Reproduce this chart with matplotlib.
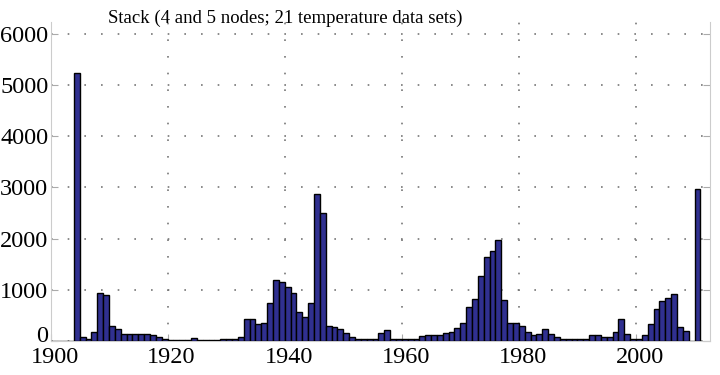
import numpy as np
import matplotlib
matplotlib.use("Agg")
import matplotlib.pyplot as plt
import matplotlib.transforms as mtransforms

# one bar per year, left edge at the year
years = np.arange(1900, 2011)
counts = [
    0, 0, 0, 0, 5230, 85, 45, 180, 940, 900,            # 1900s
    290, 235, 140, 140, 140, 140, 140, 110, 75, 45,     # 1910s
    25, 25, 25, 25, 50, 25, 25, 25, 25, 40,             # 1920s
    40, 40, 85, 430, 425, 330, 355, 750, 1190, 1150,    # 1930s
    1060, 935, 575, 475, 750, 2865, 2510, 295, 270, 235,  # 1940s
    150, 80, 40, 35, 35, 35, 150, 215, 35, 35,          # 1950s
    35, 35, 35, 97, 117, 117, 117, 150, 182, 247,       # 1960s
    357, 669, 818, 1266, 1643, 1760, 1981, 800, 344, 357,  # 1970s
    292, 169, 117, 136, 234, 136, 72, 33, 33, 33,       # 1980s
    33, 33, 117, 117, 72, 72, 182, 425, 145, 40,        # 1990s
    40, 125, 340, 623, 786, 835, 912, 280, 205, 0,      # 2000s
    2975,                                               # 2010
]
x_ticks = [1900, 1920, 1940, 1960, 1980, 2000]
y_ticks = [0, 1000, 2000, 3000, 4000, 5000, 6000]
title = "Stack (4 and 5 nodes; 21 temperature data sets)"

plt.rcParams["font.family"] = ["Liberation Serif", "DejaVu Serif"]

fig = plt.figure(figsize=(7.2, 3.75), dpi=100)
ax = fig.add_axes([50.5 / 720, 1 - 341 / 375, 659.5 / 720, 319 / 375])

ax.bar(years, counts, width=1.0, align="edge", color="#303090",
       edgecolor="black", linewidth=1.0, zorder=3)

ax.set_xlim(1900, 1900 + 659.5 / 5.855)
ax.set_ylim(0, 6234)
ax.set_xticks(x_ticks)
ax.set_yticks(y_ticks)
ax.tick_params(direction="in", length=5, color="#aaaaaa", labelsize=17.5,
               pad=1.5, right=True)
ax.tick_params(axis="x", pad=4)
ax.grid(True, color="#777777", linestyle=(0, (1, 9)), linewidth=1.2, zorder=0)

for side in ["left", "right", "bottom"]:
    ax.spines[side].set_color("#cccccc")
ax.spines["top"].set_visible(False)

# x labels sit a little right of their ticks, the 0 label is raised
shift_x = mtransforms.ScaledTranslation(4 / 100, 0, fig.dpi_scale_trans)
for lab in ax.get_xticklabels():
    lab.set_transform(lab.get_transform() + shift_x)
shift_y = mtransforms.ScaledTranslation(0, 7 / 100, fig.dpi_scale_trans)
zero_lab = ax.get_yticklabels()[0]
zero_lab.set_transform(zero_lab.get_transform() + shift_y)

fig.text(285 / 720, 1 - 18 / 375, title, ha="center", va="center", fontsize=13.5)

fig.savefig("out.png", dpi=100)
